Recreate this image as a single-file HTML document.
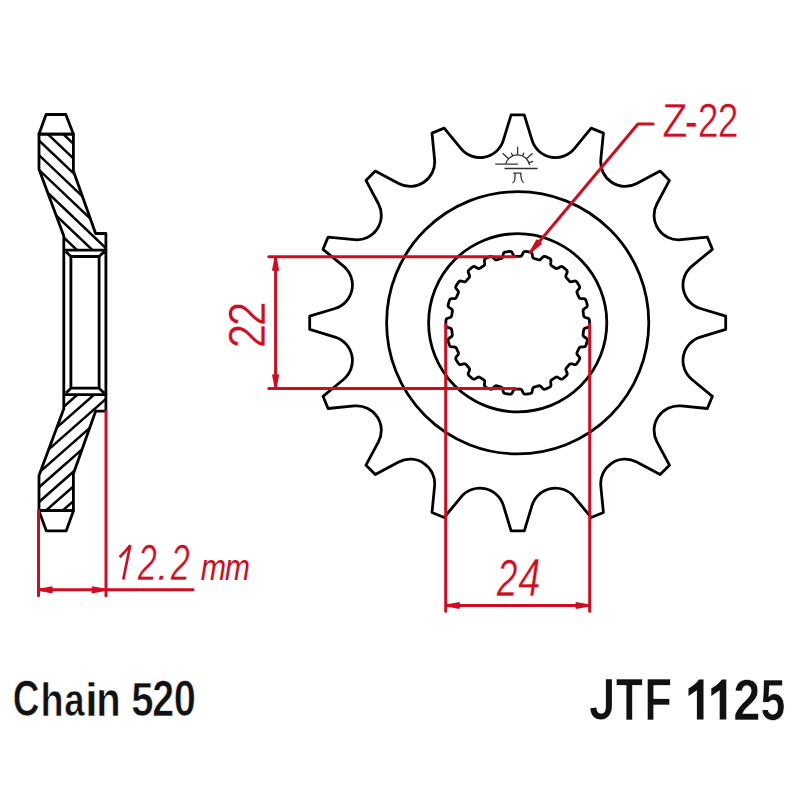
<!DOCTYPE html>
<html><head><meta charset="utf-8"><style>
html,body{margin:0;padding:0;background:#fff;width:800px;height:800px;overflow:hidden}
svg{display:block}
</style></head><body>
<svg width="800" height="800" viewBox="0 0 800 800">
<defs>
<clipPath id="ct"><path d="M39.00,134.10 L73.40,134.10 L73.40,171.00 L95.60,233.50 L105.90,233.50 L105.90,250.10 L63.80,250.10 L63.80,236.00 L39.00,169.25 Z"/></clipPath>
<clipPath id="cb"><path d="M39.00,510.60 L73.40,510.60 L73.40,473.70 L95.60,411.20 L105.90,411.20 L105.90,394.60 L63.80,394.60 L63.80,408.70 L39.00,475.45 Z"/></clipPath>
</defs>
<g fill="none" stroke="#000" stroke-width="2.8" stroke-linejoin="round">
<path d="M30.00,58.40 L115.00,139.15 M30.00,73.10 L115.00,153.85 M30.00,87.80 L115.00,168.55 M30.00,102.50 L115.00,183.25 M30.00,117.20 L115.00,197.95 M30.00,131.90 L115.00,212.65 M30.00,146.60 L115.00,227.35 M30.00,161.30 L115.00,242.05 M30.00,176.00 L115.00,256.75 M30.00,190.70 L115.00,271.45 M30.00,205.40 L115.00,286.15 M30.00,220.10 L115.00,300.85 M30.00,234.80 L115.00,315.55 M30.00,249.50 L115.00,330.25 M30.00,264.20 L115.00,344.95 M30.00,278.90 L115.00,359.65 M30.00,293.60 L115.00,374.35 M30.00,308.30 L115.00,389.05 M30.00,323.00 L115.00,403.75 M30.00,337.70 L115.00,418.45 M30.00,352.40 L115.00,433.15 M30.00,367.10 L115.00,447.85 M30.00,381.80 L115.00,462.55 M30.00,396.50 L115.00,477.25 M30.00,411.20 L115.00,491.95 M30.00,425.90 L115.00,506.65 M30.00,440.60 L115.00,521.35 M30.00,455.30 L115.00,536.05 M30.00,470.00 L115.00,550.75 M30.00,484.70 L115.00,565.45 M30.00,499.40 L115.00,580.15 M30.00,514.10 L115.00,594.85 M30.00,528.80 L115.00,609.55" clip-path="url(#ct)" stroke-width="2.5"/>
<path d="M30.00,583.40 L115.00,508.60 M30.00,568.70 L115.00,493.90 M30.00,554.00 L115.00,479.20 M30.00,539.30 L115.00,464.50 M30.00,524.60 L115.00,449.80 M30.00,509.90 L115.00,435.10 M30.00,495.20 L115.00,420.40 M30.00,480.50 L115.00,405.70 M30.00,465.80 L115.00,391.00 M30.00,451.10 L115.00,376.30 M30.00,436.40 L115.00,361.60 M30.00,421.70 L115.00,346.90 M30.00,407.00 L115.00,332.20 M30.00,392.30 L115.00,317.50 M30.00,377.60 L115.00,302.80 M30.00,362.90 L115.00,288.10 M30.00,348.20 L115.00,273.40 M30.00,333.50 L115.00,258.70 M30.00,318.80 L115.00,244.00 M30.00,304.10 L115.00,229.30 M30.00,289.40 L115.00,214.60 M30.00,274.70 L115.00,199.90 M30.00,260.00 L115.00,185.20 M30.00,245.30 L115.00,170.50 M30.00,230.60 L115.00,155.80 M30.00,215.90 L115.00,141.10 M30.00,201.20 L115.00,126.40 M30.00,186.50 L115.00,111.70 M30.00,171.80 L115.00,97.00 M30.00,157.10 L115.00,82.30 M30.00,142.40 L115.00,67.60 M30.00,127.70 L115.00,52.90 M30.00,113.00 L115.00,38.20" clip-path="url(#cb)" stroke-width="2.5"/>
<path d="M39.00,134.10 L73.40,134.10 L73.40,171.00 L95.60,233.50 L105.90,233.50 L105.90,250.10 L63.80,250.10 L63.80,236.00 L39.00,169.25 Z"/>
<path d="M39.00,510.60 L73.40,510.60 L73.40,473.70 L95.60,411.20 L105.90,411.20 L105.90,394.60 L63.80,394.60 L63.80,408.70 L39.00,475.45 Z"/>
<path d="M46.1,114.5 L65.8,114.5 L73.4,134.1 L39.0,134.1 Z"/>
<path d="M46.3,530.8 L66.2,530.8 L73.6,510.60 L38.8,510.60 Z"/>
<path d="M63.8,250.10 L63.8,394.60 M105.9,250.10 L105.9,394.60 M70.9,256.50 L99.1,256.50 L99.1,388.20 L70.9,388.20 Z M66.0,251.70 L70.9,256.50 M104.1,251.70 L99.1,256.50 M66.0,393.00 L70.9,388.20 M104.1,393.00 L99.1,388.20"/>
<path d="M511.10,114.80 L524.30,114.80 L532.01,140.15 A24.50,24.50 0 0 0 574.38,148.58 L591.20,128.11 L603.39,133.16 L600.82,159.53 A24.50,24.50 0 0 0 636.73,183.53 L660.11,171.06 L669.44,180.39 L656.97,203.77 A24.50,24.50 0 0 0 680.97,239.68 L707.34,237.11 L712.39,249.30 L691.92,266.12 A24.50,24.50 0 0 0 700.35,308.49 L725.70,316.20 L725.70,329.40 L700.35,337.11 A24.50,24.50 0 0 0 691.92,379.48 L712.39,396.30 L707.34,408.49 L680.97,405.92 A24.50,24.50 0 0 0 656.97,441.83 L669.44,465.21 L660.11,474.54 L636.73,462.07 A24.50,24.50 0 0 0 600.82,486.07 L603.39,512.44 L591.20,517.49 L574.38,497.02 A24.50,24.50 0 0 0 532.01,505.45 L524.30,530.80 L511.10,530.80 L503.39,505.45 A24.50,24.50 0 0 0 461.02,497.02 L444.20,517.49 L432.01,512.44 L434.58,486.07 A24.50,24.50 0 0 0 398.67,462.07 L375.29,474.54 L365.96,465.21 L378.43,441.83 A24.50,24.50 0 0 0 354.43,405.92 L328.06,408.49 L323.01,396.30 L343.48,379.48 A24.50,24.50 0 0 0 335.05,337.11 L309.70,329.40 L309.70,316.20 L335.05,308.49 A24.50,24.50 0 0 0 343.48,266.12 L323.01,249.30 L328.06,237.11 L354.43,239.68 A24.50,24.50 0 0 0 378.43,203.77 L365.96,180.39 L375.29,171.06 L398.67,183.53 A24.50,24.50 0 0 0 434.58,159.53 L432.01,133.16 L444.20,128.11 L461.02,148.58 A24.50,24.50 0 0 0 503.39,140.15 L511.10,114.80 Z"/>
<circle cx="517.7" cy="322.8" r="131.1"/>
<circle cx="517.7" cy="322.8" r="89.1"/>
<path d="M517.70,256.45 L518.17,256.45 L518.65,256.45 L519.12,256.45 L519.60,256.45 L520.07,256.43 L520.55,256.37 L521.03,256.21 L521.53,255.82 L522.06,255.05 L522.63,253.88 L523.22,252.71 L523.79,251.95 L524.33,251.58 L524.86,251.45 L525.37,251.43 L525.89,251.45 L526.40,251.49 L526.91,251.55 L527.42,251.61 L527.93,251.68 L528.43,251.76 L528.94,251.84 L529.44,251.93 L529.95,252.03 L530.45,252.16 L530.94,252.33 L531.40,252.60 L531.82,253.10 L532.15,253.99 L532.39,255.28 L532.60,256.57 L532.89,257.46 L533.27,257.97 L533.68,258.26 L534.12,258.45 L534.57,258.60 L535.03,258.74 L535.48,258.87 L535.94,259.00 L536.39,259.14 L536.85,259.27 L537.30,259.41 L537.76,259.54 L538.21,259.67 L538.67,259.78 L539.15,259.86 L539.66,259.84 L540.24,259.62 L540.97,259.02 L541.85,258.06 L542.74,257.10 L543.50,256.53 L544.12,256.34 L544.67,256.36 L545.17,256.48 L545.66,256.64 L546.14,256.83 L546.61,257.03 L547.08,257.23 L547.55,257.44 L548.01,257.66 L548.48,257.88 L548.94,258.11 L549.39,258.35 L549.83,258.61 L550.25,258.91 L550.63,259.31 L550.89,259.90 L550.95,260.85 L550.82,262.15 L550.66,263.45 L550.69,264.39 L550.90,264.98 L551.22,265.37 L551.59,265.68 L551.98,265.96 L552.37,266.22 L552.77,266.47 L553.17,266.73 L553.57,266.98 L553.97,267.24 L554.37,267.50 L554.77,267.75 L555.17,268.01 L555.58,268.25 L556.01,268.45 L556.51,268.58 L557.13,268.53 L558.00,268.16 L559.11,267.48 L560.24,266.82 L561.13,266.48 L561.78,266.47 L562.29,266.65 L562.74,266.90 L563.16,267.20 L563.57,267.51 L563.97,267.84 L564.36,268.17 L564.75,268.50 L565.14,268.84 L565.52,269.18 L565.90,269.53 L566.26,269.89 L566.62,270.26 L566.94,270.67 L567.18,271.15 L567.26,271.80 L567.06,272.73 L566.56,273.94 L566.05,275.14 L565.81,276.05 L565.85,276.67 L566.04,277.14 L566.31,277.54 L566.60,277.92 L566.91,278.28 L567.22,278.64 L567.53,278.99 L567.84,279.35 L568.15,279.71 L568.46,280.07 L568.77,280.43 L569.09,280.78 L569.41,281.13 L569.77,281.45 L570.21,281.71 L570.82,281.83 L571.76,281.73 L573.02,281.39 L574.29,281.07 L575.23,281.00 L575.86,281.17 L576.31,281.49 L576.67,281.86 L576.99,282.26 L577.29,282.68 L577.58,283.10 L577.86,283.52 L578.14,283.95 L578.42,284.39 L578.69,284.82 L578.95,285.27 L579.20,285.71 L579.44,286.17 L579.63,286.65 L579.73,287.19 L579.62,287.83 L579.17,288.66 L578.35,289.68 L577.52,290.69 L577.03,291.49 L576.89,292.11 L576.95,292.61 L577.09,293.07 L577.27,293.51 L577.46,293.95 L577.66,294.38 L577.86,294.81 L578.05,295.24 L578.25,295.67 L578.45,296.10 L578.64,296.53 L578.84,296.96 L579.06,297.38 L579.31,297.79 L579.66,298.17 L580.21,298.46 L581.14,298.62 L582.44,298.65 L583.75,298.70 L584.68,298.90 L585.23,299.25 L585.57,299.67 L585.81,300.13 L586.01,300.61 L586.18,301.09 L586.34,301.58 L586.49,302.07 L586.64,302.56 L586.78,303.05 L586.92,303.55 L587.05,304.04 L587.16,304.54 L587.26,305.05 L587.30,305.56 L587.25,306.10 L586.97,306.69 L586.29,307.36 L585.22,308.11 L584.14,308.84 L583.45,309.48 L583.14,310.03 L583.05,310.53 L583.06,311.01 L583.11,311.48 L583.17,311.95 L583.24,312.42 L583.31,312.89 L583.37,313.36 L583.44,313.83 L583.51,314.30 L583.57,314.76 L583.65,315.23 L583.73,315.70 L583.86,316.16 L584.09,316.62 L584.54,317.06 L585.38,317.47 L586.62,317.87 L587.86,318.29 L588.70,318.74 L589.13,319.23 L589.34,319.73 L589.44,320.24 L589.49,320.75 L589.52,321.26 L589.54,321.77 L589.55,322.29 L589.55,322.80 L589.55,323.31 L589.54,323.83 L589.52,324.34 L589.49,324.85 L589.44,325.36 L589.34,325.87 L589.13,326.37 L588.70,326.86 L587.86,327.31 L586.62,327.73 L585.38,328.13 L584.54,328.54 L584.09,328.98 L583.86,329.44 L583.73,329.90 L583.65,330.37 L583.57,330.84 L583.51,331.30 L583.44,331.77 L583.37,332.24 L583.31,332.71 L583.24,333.18 L583.17,333.65 L583.11,334.12 L583.06,334.59 L583.05,335.07 L583.14,335.57 L583.45,336.12 L584.14,336.76 L585.22,337.49 L586.29,338.24 L586.97,338.91 L587.25,339.50 L587.30,340.04 L587.26,340.55 L587.16,341.06 L587.05,341.56 L586.92,342.05 L586.78,342.55 L586.64,343.04 L586.49,343.53 L586.34,344.02 L586.18,344.51 L586.01,344.99 L585.81,345.47 L585.57,345.93 L585.23,346.35 L584.68,346.70 L583.75,346.90 L582.44,346.95 L581.14,346.98 L580.21,347.14 L579.66,347.43 L579.31,347.81 L579.06,348.22 L578.84,348.64 L578.64,349.07 L578.45,349.50 L578.25,349.93 L578.05,350.36 L577.86,350.79 L577.66,351.22 L577.46,351.65 L577.27,352.09 L577.09,352.53 L576.95,352.99 L576.89,353.49 L577.03,354.11 L577.52,354.91 L578.35,355.92 L579.17,356.94 L579.62,357.77 L579.73,358.41 L579.63,358.95 L579.44,359.43 L579.20,359.89 L578.95,360.33 L578.69,360.78 L578.42,361.21 L578.14,361.65 L577.86,362.08 L577.58,362.50 L577.29,362.92 L576.99,363.34 L576.67,363.74 L576.31,364.11 L575.86,364.43 L575.23,364.60 L574.29,364.53 L573.02,364.21 L571.76,363.87 L570.82,363.77 L570.21,363.89 L569.77,364.15 L569.41,364.47 L569.09,364.82 L568.77,365.17 L568.46,365.53 L568.15,365.89 L567.84,366.25 L567.53,366.61 L567.22,366.96 L566.91,367.32 L566.60,367.68 L566.31,368.06 L566.04,368.46 L565.85,368.93 L565.81,369.55 L566.05,370.46 L566.56,371.66 L567.06,372.87 L567.26,373.80 L567.18,374.45 L566.94,374.93 L566.62,375.34 L566.26,375.71 L565.90,376.07 L565.52,376.42 L565.14,376.76 L564.75,377.10 L564.36,377.43 L563.97,377.76 L563.57,378.09 L563.16,378.40 L562.74,378.70 L562.29,378.95 L561.78,379.13 L561.13,379.12 L560.24,378.78 L559.11,378.12 L558.00,377.44 L557.13,377.07 L556.51,377.02 L556.01,377.15 L555.58,377.35 L555.17,377.59 L554.77,377.85 L554.37,378.10 L553.97,378.36 L553.57,378.62 L553.17,378.87 L552.77,379.13 L552.37,379.38 L551.98,379.64 L551.59,379.92 L551.22,380.23 L550.90,380.62 L550.69,381.21 L550.66,382.15 L550.82,383.45 L550.95,384.75 L550.89,385.70 L550.63,386.29 L550.25,386.69 L549.83,386.99 L549.39,387.25 L548.94,387.49 L548.48,387.72 L548.01,387.94 L547.55,388.16 L547.08,388.37 L546.61,388.57 L546.14,388.77 L545.66,388.96 L545.17,389.12 L544.67,389.24 L544.12,389.26 L543.50,389.07 L542.74,388.50 L541.85,387.54 L540.97,386.58 L540.24,385.98 L539.66,385.76 L539.15,385.74 L538.67,385.82 L538.21,385.93 L537.76,386.06 L537.30,386.19 L536.85,386.33 L536.39,386.46 L535.94,386.60 L535.48,386.73 L535.03,386.86 L534.57,387.00 L534.12,387.15 L533.68,387.34 L533.27,387.63 L532.89,388.14 L532.60,389.03 L532.39,390.32 L532.15,391.61 L531.82,392.50 L531.40,393.00 L530.94,393.27 L530.45,393.44 L529.95,393.57 L529.44,393.67 L528.94,393.76 L528.43,393.84 L527.93,393.92 L527.42,393.99 L526.91,394.05 L526.40,394.11 L525.89,394.15 L525.37,394.17 L524.86,394.15 L524.33,394.02 L523.79,393.65 L523.22,392.89 L522.63,391.72 L522.06,390.55 L521.53,389.78 L521.03,389.39 L520.55,389.23 L520.07,389.17 L519.60,389.15 L519.12,389.15 L518.65,389.15 L518.17,389.15 L517.70,389.15 L517.23,389.15 L516.75,389.15 L516.28,389.15 L515.80,389.15 L515.33,389.17 L514.85,389.23 L514.37,389.39 L513.87,389.78 L513.34,390.55 L512.77,391.72 L512.18,392.89 L511.61,393.65 L511.07,394.02 L510.54,394.15 L510.03,394.17 L509.51,394.15 L509.00,394.11 L508.49,394.05 L507.98,393.99 L507.47,393.92 L506.97,393.84 L506.46,393.76 L505.96,393.67 L505.45,393.57 L504.95,393.44 L504.46,393.27 L504.00,393.00 L503.58,392.50 L503.25,391.61 L503.01,390.32 L502.80,389.03 L502.51,388.14 L502.13,387.63 L501.72,387.34 L501.28,387.15 L500.83,387.00 L500.37,386.86 L499.92,386.73 L499.46,386.60 L499.01,386.46 L498.55,386.33 L498.10,386.19 L497.64,386.06 L497.19,385.93 L496.73,385.82 L496.25,385.74 L495.74,385.76 L495.16,385.98 L494.43,386.58 L493.55,387.54 L492.66,388.50 L491.90,389.07 L491.28,389.26 L490.73,389.24 L490.23,389.12 L489.74,388.96 L489.26,388.77 L488.79,388.57 L488.32,388.37 L487.85,388.16 L487.39,387.94 L486.92,387.72 L486.46,387.49 L486.01,387.25 L485.57,386.99 L485.15,386.69 L484.77,386.29 L484.51,385.70 L484.45,384.75 L484.58,383.45 L484.74,382.15 L484.71,381.21 L484.50,380.62 L484.18,380.23 L483.81,379.92 L483.42,379.64 L483.03,379.38 L482.63,379.13 L482.23,378.87 L481.83,378.62 L481.43,378.36 L481.03,378.10 L480.63,377.85 L480.23,377.59 L479.82,377.35 L479.39,377.15 L478.89,377.02 L478.27,377.07 L477.40,377.44 L476.29,378.12 L475.16,378.78 L474.27,379.12 L473.62,379.13 L473.11,378.95 L472.66,378.70 L472.24,378.40 L471.83,378.09 L471.43,377.76 L471.04,377.43 L470.65,377.10 L470.26,376.76 L469.88,376.42 L469.50,376.07 L469.14,375.71 L468.78,375.34 L468.46,374.93 L468.22,374.45 L468.14,373.80 L468.34,372.87 L468.84,371.66 L469.35,370.46 L469.59,369.55 L469.55,368.93 L469.36,368.46 L469.09,368.06 L468.80,367.68 L468.49,367.32 L468.18,366.96 L467.87,366.61 L467.56,366.25 L467.25,365.89 L466.94,365.53 L466.63,365.17 L466.31,364.82 L465.99,364.47 L465.63,364.15 L465.19,363.89 L464.58,363.77 L463.64,363.87 L462.38,364.21 L461.11,364.53 L460.17,364.60 L459.54,364.43 L459.09,364.11 L458.73,363.74 L458.41,363.34 L458.11,362.92 L457.82,362.50 L457.54,362.08 L457.26,361.65 L456.98,361.21 L456.71,360.78 L456.45,360.33 L456.20,359.89 L455.96,359.43 L455.77,358.95 L455.67,358.41 L455.78,357.77 L456.23,356.94 L457.05,355.92 L457.88,354.91 L458.37,354.11 L458.51,353.49 L458.45,352.99 L458.31,352.53 L458.13,352.09 L457.94,351.65 L457.74,351.22 L457.54,350.79 L457.35,350.36 L457.15,349.93 L456.95,349.50 L456.76,349.07 L456.56,348.64 L456.34,348.22 L456.09,347.81 L455.74,347.43 L455.19,347.14 L454.26,346.98 L452.96,346.95 L451.65,346.90 L450.72,346.70 L450.17,346.35 L449.83,345.93 L449.59,345.47 L449.39,344.99 L449.22,344.51 L449.06,344.02 L448.91,343.53 L448.76,343.04 L448.62,342.55 L448.48,342.05 L448.35,341.56 L448.24,341.06 L448.14,340.55 L448.10,340.04 L448.15,339.50 L448.43,338.91 L449.11,338.24 L450.18,337.49 L451.26,336.76 L451.95,336.12 L452.26,335.57 L452.35,335.07 L452.34,334.59 L452.29,334.12 L452.23,333.65 L452.16,333.18 L452.09,332.71 L452.03,332.24 L451.96,331.77 L451.89,331.30 L451.83,330.84 L451.75,330.37 L451.67,329.90 L451.54,329.44 L451.31,328.98 L450.86,328.54 L450.02,328.13 L448.78,327.73 L447.54,327.31 L446.70,326.86 L446.27,326.37 L446.06,325.87 L445.96,325.36 L445.91,324.85 L445.88,324.34 L445.86,323.83 L445.85,323.31 L445.85,322.80 L445.85,322.29 L445.86,321.77 L445.88,321.26 L445.91,320.75 L445.96,320.24 L446.06,319.73 L446.27,319.23 L446.70,318.74 L447.54,318.29 L448.78,317.87 L450.02,317.47 L450.86,317.06 L451.31,316.62 L451.54,316.16 L451.67,315.70 L451.75,315.23 L451.83,314.76 L451.89,314.30 L451.96,313.83 L452.03,313.36 L452.09,312.89 L452.16,312.42 L452.23,311.95 L452.29,311.48 L452.34,311.01 L452.35,310.53 L452.26,310.03 L451.95,309.48 L451.26,308.84 L450.18,308.11 L449.11,307.36 L448.43,306.69 L448.15,306.10 L448.10,305.56 L448.14,305.05 L448.24,304.54 L448.35,304.04 L448.48,303.55 L448.62,303.05 L448.76,302.56 L448.91,302.07 L449.06,301.58 L449.22,301.09 L449.39,300.61 L449.59,300.13 L449.83,299.67 L450.17,299.25 L450.72,298.90 L451.65,298.70 L452.96,298.65 L454.26,298.62 L455.19,298.46 L455.74,298.17 L456.09,297.79 L456.34,297.38 L456.56,296.96 L456.76,296.53 L456.95,296.10 L457.15,295.67 L457.35,295.24 L457.54,294.81 L457.74,294.38 L457.94,293.95 L458.13,293.51 L458.31,293.07 L458.45,292.61 L458.51,292.11 L458.37,291.49 L457.88,290.69 L457.05,289.68 L456.23,288.66 L455.78,287.83 L455.67,287.19 L455.77,286.65 L455.96,286.17 L456.20,285.71 L456.45,285.27 L456.71,284.82 L456.98,284.39 L457.26,283.95 L457.54,283.52 L457.82,283.10 L458.11,282.68 L458.41,282.26 L458.73,281.86 L459.09,281.49 L459.54,281.17 L460.17,281.00 L461.11,281.07 L462.38,281.39 L463.64,281.73 L464.58,281.83 L465.19,281.71 L465.63,281.45 L465.99,281.13 L466.31,280.78 L466.63,280.43 L466.94,280.07 L467.25,279.71 L467.56,279.35 L467.87,278.99 L468.18,278.64 L468.49,278.28 L468.80,277.92 L469.09,277.54 L469.36,277.14 L469.55,276.67 L469.59,276.05 L469.35,275.14 L468.84,273.94 L468.34,272.73 L468.14,271.80 L468.22,271.15 L468.46,270.67 L468.78,270.26 L469.14,269.89 L469.50,269.53 L469.88,269.18 L470.26,268.84 L470.65,268.50 L471.04,268.17 L471.43,267.84 L471.83,267.51 L472.24,267.20 L472.66,266.90 L473.11,266.65 L473.62,266.47 L474.27,266.48 L475.16,266.82 L476.29,267.48 L477.40,268.16 L478.27,268.53 L478.89,268.58 L479.39,268.45 L479.82,268.25 L480.23,268.01 L480.63,267.75 L481.03,267.50 L481.43,267.24 L481.83,266.98 L482.23,266.73 L482.63,266.47 L483.03,266.22 L483.42,265.96 L483.81,265.68 L484.18,265.37 L484.50,264.98 L484.71,264.39 L484.74,263.45 L484.58,262.15 L484.45,260.85 L484.51,259.90 L484.77,259.31 L485.15,258.91 L485.57,258.61 L486.01,258.35 L486.46,258.11 L486.92,257.88 L487.39,257.66 L487.85,257.44 L488.32,257.23 L488.79,257.03 L489.26,256.83 L489.74,256.64 L490.23,256.48 L490.73,256.36 L491.28,256.34 L491.90,256.53 L492.66,257.10 L493.55,258.06 L494.43,259.02 L495.16,259.62 L495.74,259.84 L496.25,259.86 L496.73,259.78 L497.19,259.67 L497.64,259.54 L498.10,259.41 L498.55,259.27 L499.01,259.14 L499.46,259.00 L499.92,258.87 L500.37,258.74 L500.83,258.60 L501.28,258.45 L501.72,258.26 L502.13,257.97 L502.51,257.46 L502.80,256.57 L503.01,255.28 L503.25,253.99 L503.58,253.10 L504.00,252.60 L504.46,252.33 L504.95,252.16 L505.45,252.03 L505.96,251.93 L506.46,251.84 L506.97,251.76 L507.47,251.68 L507.98,251.61 L508.49,251.55 L509.00,251.49 L509.51,251.45 L510.03,251.43 L510.54,251.45 L511.07,251.58 L511.61,251.95 L512.18,252.71 L512.77,253.88 L513.34,255.05 L513.87,255.82 L514.37,256.21 L514.85,256.37 L515.33,256.43 L515.80,256.45 L516.28,256.45 L516.75,256.45 L517.23,256.45 Z"/>
</g>
<g fill="none" stroke="#333" stroke-width="1.3"><path d="M505.70,163.80 A12.3,12.3 0 0 1 529.60,165.00"/><path d="M495.3,164.1 L518,164.1 M504.5,168.5 L537.6,168.5"/><path d="M528.69,162.96 L533.20,161.32 M526.30,159.03 L532.57,153.29 M522.40,156.22 L523.90,152.84 M517.60,155.20 L517.60,146.80 M512.80,156.22 L511.30,152.84 M508.90,159.03 L502.63,153.29"/><path d="M513.2,173.2 L521.6,173.2 M515.2,173.2 L514.7,180.2 Q514.2,182.3 512.4,182.8 M520.6,173.6 L521.3,178.5 Q521.9,181.6 523.6,182.8"/></g>
<g fill="none" stroke="#d00c20" stroke-width="3.0" stroke-linecap="round" stroke-linejoin="round">
<path d="M38.5,510.5 L38.5,595.7 M106.0,411.5 L106.0,595.7 M38.5,589.8 L193.0,589.8"/>
<path d="M268.8,256.8 L515.2,256.8 M268.8,388.5 L515.4,388.5 M275.6,256.8 L275.6,388.5"/>
<path d="M445.7,324.6 L445.7,611.3 M589.7,324.6 L589.7,611.3 M445.7,605.5 L589.7,605.5"/>
<path d="M653,124 L637.9,124 L530.4,252.2"/>
</g>
<g fill="#d00c20" stroke="none">
<path d="M38.50,590.80 L52.30,593.40 Q53.90,589.80 52.30,586.20 L38.50,588.80 Z"/>
<path d="M106.00,588.80 L92.20,586.20 Q90.60,589.80 92.20,593.40 L106.00,590.80 Z"/>
<path d="M274.60,256.80 L272.00,270.60 Q275.60,272.20 279.20,270.60 L276.60,256.80 Z"/>
<path d="M276.60,388.50 L279.20,374.70 Q275.60,373.10 272.00,374.70 L274.60,388.50 Z"/>
<path d="M445.70,606.50 L459.50,609.10 Q461.10,605.50 459.50,601.90 L445.70,604.50 Z"/>
<path d="M589.70,604.50 L575.90,601.90 Q574.30,605.50 575.90,609.10 L589.70,606.50 Z"/>
<path d="M531.17,252.84 L542.03,243.94 Q540.30,240.40 536.51,239.31 L529.63,251.56 Z"/>
</g>
<g font-family="Liberation Sans, sans-serif">
<text transform="translate(12.72,715.91) scale(36.9466,49.4366)" font-size="1" font-weight="bold" font-style="normal" fill="#111" stroke="#fff" stroke-width="0.6" vector-effect="non-scaling-stroke">C</text>
<text transform="translate(40.45,716.05) scale(37.9167,46.3448)" font-size="1" font-weight="bold" font-style="normal" fill="#111" stroke="#fff" stroke-width="0.6" vector-effect="non-scaling-stroke">h</text>
<text transform="translate(64.35,715.93) scale(36.5094,46.7273)" font-size="1" font-weight="bold" font-style="normal" fill="#111" stroke="#fff" stroke-width="0.6" vector-effect="non-scaling-stroke">a</text>
<text transform="translate(85.06,716.05) scale(46.2963,46.8276)" font-size="1" font-weight="bold" font-style="normal" fill="#111" stroke="#fff" stroke-width="0.6" vector-effect="non-scaling-stroke">i</text>
<text transform="translate(96.20,716.05) scale(40.0000,47.6852)" font-size="1" font-weight="bold" font-style="normal" fill="#111" stroke="#fff" stroke-width="0.6" vector-effect="non-scaling-stroke">n</text>
<text transform="translate(131.19,715.81) scale(40.2000,48.8571)" font-size="1" font-weight="bold" font-style="normal" fill="#111" stroke="#fff" stroke-width="0.6" vector-effect="non-scaling-stroke">5</text>
<text transform="translate(152.22,715.80) scale(39.3750,49.4286)" font-size="1" font-weight="bold" font-style="normal" fill="#111" stroke="#fff" stroke-width="0.6" vector-effect="non-scaling-stroke">2</text>
<text transform="translate(173.71,716.19) scale(39.7895,50.5634)" font-size="1" font-weight="bold" font-style="normal" fill="#111" stroke="#fff" stroke-width="0.6" vector-effect="non-scaling-stroke">0</text>
<text transform="translate(615.66,720.35) scale(44.2373,60.0000)" font-size="1" font-weight="bold" font-style="normal" fill="#111" stroke="#fff" stroke-width="0.6" vector-effect="non-scaling-stroke">T</text>
<text transform="translate(644.26,720.35) scale(45.2941,60.0000)" font-size="1" font-weight="bold" font-style="normal" fill="#111" stroke="#fff" stroke-width="0.6" vector-effect="non-scaling-stroke">F</text>
<text transform="translate(733.24,719.70) scale(48.8542,58.2143)" font-size="1" font-weight="bold" font-style="normal" fill="#111" stroke="#fff" stroke-width="0.6" vector-effect="non-scaling-stroke">2</text>
<text transform="translate(760.61,719.82) scale(44.7000,57.5714)" font-size="1" font-weight="bold" font-style="normal" fill="#111" stroke="#fff" stroke-width="0.6" vector-effect="non-scaling-stroke">5</text>
<path fill="#111" d="M605.9,679.25 L611.9,679.25 L611.9,705.5 C611.9,714.5 607.5,719.4 601,719.4 C594.5,719.4 590.8,715.5 590.3,708.2 L596.4,707.4 C596.7,711.6 598.3,713.6 601.2,713.6 C604.6,713.6 605.9,711.5 605.9,705.8 Z"/>
<path transform="translate(0,0)" fill="#111" d="M703.5,679.4 L703.5,719.6 L696.9,719.6 L696.9,690.2 L688.5,695.9 L688.5,688.4 Q695.5,684.5 699,679.4 Z"/>
<path transform="translate(22.8,0)" fill="#111" d="M703.5,679.4 L703.5,719.6 L696.9,719.6 L696.9,690.2 L688.5,695.9 L688.5,688.4 Q695.5,684.5 699,679.4 Z"/>
<path fill="none" stroke="#d00c20" stroke-width="2.7" d="M119.6,557.2 Q125.5,551.5 130.2,545.3 L123.3,579.4"/>
<text transform="translate(137.82,579.85) scale(34.3119,50.2857)" font-size="1" font-weight="normal" font-style="italic" fill="#d00c20" stroke="#fff" stroke-width="0.45" vector-effect="non-scaling-stroke">2</text>
<text transform="translate(156.84,579.85) scale(45.2174,40.0000)" font-size="1" font-weight="normal" font-style="italic" fill="#d00c20" stroke="#fff" stroke-width="0.45" vector-effect="non-scaling-stroke">.</text>
<text transform="translate(170.82,579.85) scale(34.3119,50.2857)" font-size="1" font-weight="normal" font-style="italic" fill="#d00c20" stroke="#fff" stroke-width="0.45" vector-effect="non-scaling-stroke">2</text>
<text transform="translate(200.64,580.00) scale(30.3922,36.4486)" font-size="1" font-weight="normal" font-style="italic" fill="#d00c20" >m</text>
<text transform="translate(225.00,580.00) scale(29.9346,36.4486)" font-size="1" font-weight="normal" font-style="italic" fill="#d00c20" >m</text>
<text transform="translate(496.84,595.65) scale(37.2477,52.0000)" font-size="1" font-weight="normal" font-style="italic" fill="#d00c20" stroke="#fff" stroke-width="0.45" vector-effect="non-scaling-stroke">2</text>
<text transform="translate(518.15,595.65) scale(40.0000,52.7536)" font-size="1" font-weight="normal" font-style="italic" fill="#d00c20" stroke="#fff" stroke-width="0.45" vector-effect="non-scaling-stroke">4</text>
<text transform="translate(662.21,137.10) scale(41.2727,47.4638)" font-size="1" font-weight="normal" font-style="normal" fill="#d00c20" stroke="#fff" stroke-width="0.45" vector-effect="non-scaling-stroke">Z</text>
<text transform="translate(684.79,140.02) scale(39.1837,55.0000)" font-size="1" font-weight="normal" font-style="normal" fill="#d00c20" stroke="#fff" stroke-width="0.45" vector-effect="non-scaling-stroke">-</text>
<text transform="translate(697.78,137.10) scale(37.3626,47.5000)" font-size="1" font-weight="normal" font-style="normal" fill="#d00c20" stroke="#fff" stroke-width="0.45" vector-effect="non-scaling-stroke">2</text>
<text transform="translate(717.79,137.10) scale(37.2527,47.5000)" font-size="1" font-weight="normal" font-style="normal" fill="#d00c20" stroke="#fff" stroke-width="0.45" vector-effect="non-scaling-stroke">2</text>
<g transform="translate(265,345.8) rotate(-90)">
<text transform="translate(-2.54,0.35) scale(43.7363,52.1429)" font-size="1" font-weight="normal" font-style="normal" fill="#d00c20" stroke="#fff" stroke-width="0.45" vector-effect="non-scaling-stroke">2</text>
<text transform="translate(19.53,0.35) scale(44.3956,52.1429)" font-size="1" font-weight="normal" font-style="normal" fill="#d00c20" stroke="#fff" stroke-width="0.45" vector-effect="non-scaling-stroke">2</text>
</g>
</g>
</svg>
</body></html>
